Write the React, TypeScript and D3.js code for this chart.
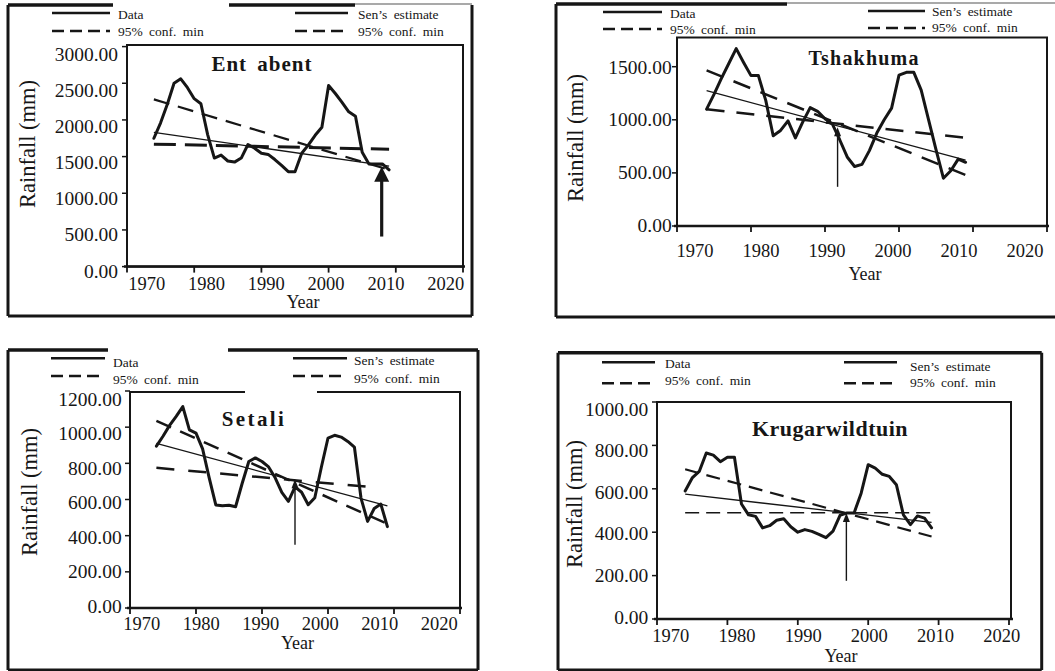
import React from "react";
import * as d3 from "d3";

// ---------- data ----------
const years = [1974, 1975, 1976, 1977, 1978, 1979, 1980, 1981, 1982, 1983, 1984, 1985, 1986, 1987, 1988, 1989, 1990, 1991, 1992, 1993, 1994, 1995, 1996, 1997, 1998, 1999, 2000, 2001, 2002, 2003, 2004, 2005, 2006, 2007, 2008, 2009];
const yearTicks = [1970, 1980, 1990, 2000, 2010, 2020];

const entabentRain = [1750, 1960, 2215, 2500, 2560, 2440, 2290, 2220, 1800, 1480, 1520, 1440, 1425, 1480, 1665, 1613, 1545, 1530, 1460, 1380, 1294, 1294, 1545, 1660, 1790, 1900, 2470, 2360, 2240, 2110, 2050, 1560, 1400, 1400, 1400, 1320];
const tshakhumaRain = [1100, 1240, 1390, 1530, 1670, 1540, 1416, 1416, 1180, 850, 900, 990, 830, 980, 1115, 1080, 1010, 960, 810, 650, 560, 580, 710, 875, 1000, 1110, 1420, 1447, 1447, 1280, 1000, 720, 450, 520, 630, 600];
const setaliRain = [895, 950, 1010, 1060, 1114, 985, 967, 880, 720, 570, 565, 568, 560, 690, 810, 830, 810, 780, 720, 640, 590, 670, 640, 571, 610, 780, 940, 955, 945, 921, 890, 608, 479, 550, 575, 450];
const krugerRain = [590, 650, 680, 765, 755, 725, 745, 745, 530, 480, 473, 420, 430, 455, 462, 425, 400, 412, 404, 390, 375, 405, 478, 489, 489, 580, 711, 695, 667, 657, 619, 480, 435, 475, 465, 420];

const trendYears = [1974, 2009];
const setaliLowerYears = [1974, 2007.6];

const entabentSen = [1830, 1370];
const entabentConfUpper = [2280, 1320];
const entabentConfLower = [1670, 1600];
const tshakhumaSen = [1274, 620];
const tshakhumaConfUpper = [1465, 480];
const tshakhumaConfLower = [1100, 830];
const setaliSen = [910, 565];
const setaliConfUpper = [1035, 465];
const setaliConfLower = [775, 665];
const krugerSen = [575, 445];
const krugerConfUpper = [690, 380];
const krugerConfLower = [490, 490];

// arrow: [year, from value, to value]
const entabentArrow = [2007.9, 410, 1360];
const tshakhumaArrow = [1991.7, 369, 930];
const setaliArrow = [1995.0, 350, 712];
const krugerArrow = [1996.9, 176, 488];

const entabentYTicks = [0, 500, 1000, 1500, 2000, 2500, 3000];
const tshakhumaYTicks = [0, 500, 1000, 1500];
const setaliYTicks = [0, 200, 400, 600, 800, 1000, 1200];
const krugerYTicks = [0, 200, 400, 600, 800, 1000];

// ---------- layout ----------
const FONT = "'Liberation Serif', 'Times New Roman', serif";
const INK = "#161616";

const panels = [
  {
    title: "Ent abent", rain: entabentRain, sen: entabentSen, up: entabentConfUpper, low: entabentConfLower,
    lowYears: trendYears, arrow: entabentArrow, arrowHeavy: true, yMax: 3000, yTicks: entabentYTicks,
    xRange: [127, 463], yRange: [266.6, 46.6], frameTop: 45, frameRight: 463,
    yLabelRange: [270.7, 54.3], yLabelRight: 118, xLabelRange: [146.7, 445.7], xLabelBase: 290,
    titleX: 262, titleY: 71, titleSize: 21, titleLs: 1,
    yTitleX: 35, yTitleY: 144, xTitleX: 303, xTitleY: 308,
    box: [8, 5, 472, 316], thick: [[8, 113], [229, 355]], thin: [[355, 472]], frameGaps: [],
    upStyle: { w: 2.2, dash: "16,9" }, lowStyle: { w: 3, dash: "22,9" },
    lx: [52, 110], ly: [13, 31], ltx: 118, lty: [19, 35.5],
    rx: [295, 348], ry: [13, 31], rtx: 358, rty: [19, 35.5],
  },
  {
    title: "Tshakhuma", rain: tshakhumaRain, sen: tshakhumaSen, up: tshakhumaConfUpper, low: tshakhumaConfLower,
    lowYears: trendYears, arrow: tshakhumaArrow, arrowHeavy: false, yMax: 1500, yTicks: tshakhumaYTicks,
    xRange: [677, 1047], yRange: [226, 66.7], frameTop: 37.5, frameRight: 1047,
    yLabelRange: [225, 66.7], yLabelRight: 671.7, xLabelRange: [695, 1025], xLabelBase: 257,
    titleX: 864, titleY: 65, titleSize: 20, titleLs: 1.2,
    yTitleX: 583, yTitleY: 138, xTitleX: 865, xTitleY: 280,
    box: [556, 4, 1064, 317], thick: [[556, 787]], thin: [[787, 1064]], frameGaps: [],
    upStyle: { w: 2.5, dash: "18,11" }, lowStyle: { w: 2.5, dash: "18,12" },
    lx: [603, 662], ly: [12, 29], ltx: 670, lty: [17.5, 33.5],
    rx: [868, 925], ry: [11, 28], rtx: 932, rty: [15.5, 31.5],
  },
  {
    title: "Setali", rain: setaliRain, sen: setaliSen, up: setaliConfUpper, low: setaliConfLower,
    lowYears: setaliLowerYears, arrow: setaliArrow, arrowHeavy: false, yMax: 1200, yTicks: setaliYTicks,
    xRange: [130, 460], yRange: [608, 391], frameTop: 392, frameRight: 460,
    yLabelRange: [606, 399], yLabelRight: 121.7, xLabelRange: [141.7, 439.3], xLabelBase: 630,
    titleX: 254, titleY: 425.7, titleSize: 21, titleLs: 2.4,
    yTitleX: 37, yTitleY: 492, xTitleX: 297.5, xTitleY: 649,
    box: [8, 350, 478, 670], thick: [[8, 108], [228, 478]], thin: [], frameGaps: [[245, 317]],
    upStyle: { w: 2.5, dash: "16,10" }, lowStyle: { w: 2.5, dash: "18,14" },
    lx: [51, 105], ly: [358.3, 376], ltx: 113, lty: [366.7, 383.5],
    rx: [293, 347], ry: [358.3, 376], rtx: 354, rty: [365, 383],
  },
  {
    title: "Krugarwildtuin", rain: krugerRain, sen: krugerSen, up: krugerConfUpper, low: krugerConfLower,
    lowYears: trendYears, arrow: krugerArrow, arrowHeavy: false, yMax: 1000, yTicks: krugerYTicks,
    xRange: [657, 1009], yRange: [619, 402], frameTop: 402, frameRight: 1011,
    yLabelRange: [616.7, 409], yLabelRight: 648.3, xLabelRange: [670.8, 1001.7], xLabelBase: 641.7,
    titleX: 830, titleY: 436, titleSize: 22, titleLs: 0.5,
    yTitleX: 582, yTitleY: 504, xTitleX: 841, xTitleY: 661.7,
    box: [558, 352.7, 1041.7, 670], thick: [[558, 1041.7]], thin: [], frameGaps: [],
    upStyle: { w: 2.2, dash: "14,8" }, lowStyle: { w: 1.5, dash: "14,7" },
    lx: [602, 655], ly: [362.3, 383.3], ltx: 665, lty: [368, 385],
    rx: [844, 897], ry: [362.3, 383.3], rtx: 910, rty: [370.7, 387],
  },
];

function Panel({ c }: { c: any }) {
  const x = d3.scaleLinear().domain([1970, 2020]).range(c.xRange);
  const y = d3.scaleLinear().domain([0, c.yMax]).range(c.yRange);
  const xl = d3.scaleLinear().domain([1970, 2020]).range(c.xLabelRange);
  const yl = d3.scaleLinear().domain([0, c.yMax]).range(c.yLabelRange);
  const line = d3.line<[number, number]>().x((d) => x(d[0])).y((d) => y(d[1]));
  const dataPts: [number, number][] = years.map((yr, i) => [yr, c.rain[i]]);
  const senPts: [number, number][] = trendYears.map((yr, i) => [yr, c.sen[i]]);
  const upPts: [number, number][] = trendYears.map((yr, i) => [yr, c.up[i]]);
  const lowPts: [number, number][] = c.lowYears.map((yr: number, i: number) => [yr, c.low[i]]);
  const [bx0, by0, bx1, by1] = c.box;
  const left = x(1970);
  const bottom = y(0);
  const ax = x(c.arrow[0]);
  const ayFrom = y(c.arrow[1]);
  const ayTo = y(c.arrow[2]);
  const headLen = c.arrowHeavy ? 15 : 9;
  const headW = c.arrowHeavy ? 15 : 7;
  const legendText = { fontFamily: FONT, fontSize: 13.5, fill: INK, wordSpacing: 3 } as const;

  return (
    <g>
      {/* outer box */}
      <line x1={bx0} y1={by0} x2={bx0} y2={by1} stroke={INK} strokeWidth={3} />
      <line x1={bx1} y1={by0} x2={bx1} y2={by1} stroke={INK} strokeWidth={3} />
      <line x1={bx0} y1={by1} x2={bx1} y2={by1} stroke={INK} strokeWidth={3} />
      {c.thick.map((s: number[], i: number) => (
        <line key={"tk" + i} x1={s[0]} x2={s[1]} y1={by0} y2={by0} stroke={INK} strokeWidth={3.5} />
      ))}
      {c.thin.map((s: number[], i: number) => (
        <line key={"tn" + i} x1={s[0]} x2={s[1]} y1={by0 - 1} y2={by0 - 1} stroke="#555" strokeWidth={1.2} />
      ))}

      {/* plot frame */}
      <rect x={left} y={c.frameTop} width={c.frameRight - left} height={bottom - c.frameTop} fill="none" stroke={INK} strokeWidth={2} />
      <line x1={left - 3} x2={c.frameRight + 2} y1={bottom} y2={bottom} stroke={INK} strokeWidth={2.5} />
      {c.frameGaps.map((g: number[], i: number) => (
        <rect key={"fg" + i} x={g[0]} y={c.frameTop - 2} width={g[1] - g[0]} height={4} fill="#fff" />
      ))}

      {/* y ticks */}
      {c.yTicks.map((t: number) => (
        <g key={"yt" + t}>
          <line x1={left - 5} x2={left} y1={y(t)} y2={y(t)} stroke={INK} strokeWidth={1.5} />
          <text x={c.yLabelRight} y={yl(t)} dy="0.35em" textAnchor="end" fontFamily={FONT} fontSize={19.5} fill={INK}>
            {d3.format(".2f")(t)}
          </text>
        </g>
      ))}
      {/* x ticks */}
      {yearTicks.map((t) => (
        <g key={"xt" + t}>
          <line x1={x(t)} x2={x(t)} y1={bottom} y2={bottom + 6} stroke={INK} strokeWidth={1.8} />
          <text x={xl(t)} y={c.xLabelBase} textAnchor="middle" fontFamily={FONT} fontSize={18.5} fill={INK}>
            {t}
          </text>
        </g>
      ))}

      {/* axis titles */}
      <text transform={`translate(${c.yTitleX},${c.yTitleY}) rotate(-90)`} textAnchor="middle" fontFamily={FONT} fontSize={22.5} fill={INK}>
        Rainfall (mm)
      </text>
      <text x={c.xTitleX} y={c.xTitleY} textAnchor="middle" fontFamily={FONT} fontSize={18} fill={INK}>
        Year
      </text>
      <text x={c.titleX} y={c.titleY} textAnchor="middle" fontFamily={FONT} fontWeight="bold" fontSize={c.titleSize} letterSpacing={c.titleLs} wordSpacing={4} fill={INK}>
        {c.title}
      </text>

      {/* series */}
      <path d={line(lowPts) || ""} fill="none" stroke={INK} strokeWidth={c.lowStyle.w} strokeDasharray={c.lowStyle.dash} />
      <path d={line(upPts) || ""} fill="none" stroke={INK} strokeWidth={c.upStyle.w} strokeDasharray={c.upStyle.dash} />
      <path d={line(senPts) || ""} fill="none" stroke={INK} strokeWidth={1.3} />
      <path d={line(dataPts) || ""} fill="none" stroke={INK} strokeWidth={3} strokeLinejoin="round" strokeLinecap="round" />

      {/* arrow */}
      <line x1={ax} x2={ax} y1={ayFrom} y2={ayTo + headLen - 1} stroke={INK} strokeWidth={c.arrowHeavy ? 3.2 : 1.4} />
      <path d={`M${ax},${ayTo} L${ax - headW / 2},${ayTo + headLen} L${ax + headW / 2},${ayTo + headLen} Z`} fill={INK} />

      {/* legend */}
      <line x1={c.lx[0]} x2={c.lx[1]} y1={c.ly[0]} y2={c.ly[0]} stroke={INK} strokeWidth={2.5} />
      <line x1={c.lx[0]} x2={c.lx[1]} y1={c.ly[1]} y2={c.ly[1]} stroke={INK} strokeWidth={2.5} strokeDasharray="12,6" />
      <text x={c.ltx} y={c.lty[0]} {...legendText}>Data</text>
      <text x={c.ltx} y={c.lty[1]} {...legendText}>95% conf. min</text>
      <line x1={c.rx[0]} x2={c.rx[1]} y1={c.ry[0]} y2={c.ry[0]} stroke={INK} strokeWidth={2.5} />
      <line x1={c.rx[0]} x2={c.rx[1]} y1={c.ry[1]} y2={c.ry[1]} stroke={INK} strokeWidth={2.5} strokeDasharray="12,6" />
      <text x={c.rtx} y={c.rty[0]} {...legendText}>Sen’s estimate</text>
      <text x={c.rtx} y={c.rty[1]} {...legendText}>95% conf. min</text>
    </g>
  );
}

export default function App() {
  return (
    <svg width={1055} height={671} viewBox="0 0 1055 671" style={{ position: "absolute", left: 0, top: 0, background: "#fff" }}>
      <rect x={0} y={0} width={1055} height={671} fill="#fff" />
      {panels.map((c, i) => (
        <Panel key={i} c={c} />
      ))}
    </svg>
  );
}
